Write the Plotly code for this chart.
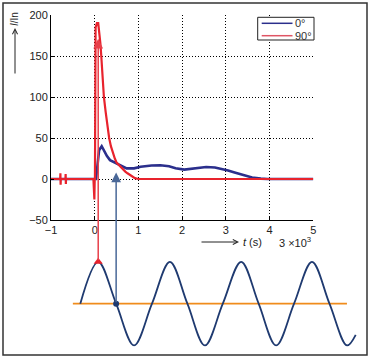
import plotly.graph_objects as go

# ---------------- data ----------------
series_names = ["0°", "90°"]

t_0 = [-1.0, 0.03, 0.06, 0.1, 0.16, 0.22, 0.28, 0.35, 0.42, 0.5, 0.6, 0.73, 0.9, 1.05,
       1.3, 1.5, 1.7, 1.85, 2.05, 2.3, 2.55, 2.75, 2.9, 3.05, 3.2, 3.4, 3.6, 3.8, 3.95, 5.0]
i_0 = [0, 0, 15, 35, 40, 34, 28, 23, 21, 19, 16, 13, 13, 15,
       16.5, 16.7, 15.5, 13, 11.5, 13, 14.6, 14, 12.5, 10.5, 8, 4.5, 1.8, 0.5, 0, 0]

t_90 = [-1.0, -0.79, -0.785, -0.78, -0.775, -0.67, -0.665, -0.66, -0.655, -0.03, -0.012, -0.008,
        0.0, 0.005, 0.02, 0.05, 0.08, 0.1, 0.13, 0.15, 0.18, 0.21, 0.25, 0.29, 0.33, 0.37,
        0.42, 0.46, 0.5, 0.55, 0.6, 0.65, 0.7, 0.75, 0.8, 0.86, 0.92, 1.0, 5.0]
i_90 = [0, 0, 7, -7, 0, 0, 6, -6, 0, 0, -25, -25,
        0, 0, 185, 190, 190, 182, 165, 150, 125, 100, 82, 64, 50, 40,
        31, 25, 20, 17, 14, 12, 9, 7, 5, 3, 1, 0, 0]

x_ticks = [-1, 0, 1, 2, 3, 4, 5]
y_ticks = [-50, 0, 50, 100, 150, 200]

# schematic voltage wave below the plot (peaks / crossings / troughs)
wave_t = [-0.33, 0.08, 0.49, 0.9, 1.31, 1.72, 2.12, 2.52, 2.93, 3.35, 3.75, 4.15, 4.56, 4.97, 5.37, 5.77, 5.97]
wave_v = [-152, -101, -152, -203, -152, -101, -152, -203, -152, -101, -152, -203, -152, -101, -152, -203, -190]
ref_t = [-0.5, 5.77]
ref_v = [-152, -152]

red_arrow_t = 0.08
red_arrow_from = -101
red_arrow_to = 171
blue_arrow_t = 0.49
blue_arrow_from = -152
blue_arrow_to = 8

# ---------------- layout geometry ----------------
W, H = 370, 359
ML, MR, MT, MB = 51, 9, 15, 4
PW, PH = W - ML - MR, H - MT - MB
x_dom = [0, (313.3 - ML) / PW]
y_dom = [(H - MB - 220) / PH, 1]
x_range = [-1, 5]
y_range = [-50, 200]
x2_range = [x_range[0], x_range[0] + (x_range[1] - x_range[0]) / (x_dom[1] - x_dom[0])]
y2_range = [y_range[1] - (y_range[1] - y_range[0]) / (y_dom[1] - y_dom[0]), y_range[1]]

def px_x(p):
    return (p - ML) / PW

def px_y(p):
    return (H - MB - p) / PH

BLUE = "#2b2f8c"
RED = "#e8232d"
WAVE = "#1f3a70"
ORANGE = "#f08c1c"
ARROW_BLUE = "#4a6898"
FONT = "Liberation Sans, Arial, sans-serif"

fig = go.Figure()

fig.add_trace(go.Scatter(x=t_0, y=i_0, mode="lines", name=series_names[0],
                         line=dict(color=BLUE, width=2.6), xaxis="x", yaxis="y"))
fig.add_trace(go.Scatter(x=t_90, y=i_90, mode="lines", name=series_names[1],
                         line=dict(color=RED, width=2.2), xaxis="x", yaxis="y"))

fig.add_trace(go.Scatter(x=ref_t, y=ref_v, mode="lines", line=dict(color=ORANGE, width=1.8),
                         xaxis="x2", yaxis="y2"))
fig.add_trace(go.Scatter(x=wave_t, y=wave_v, mode="lines",
                         line=dict(color=WAVE, width=1.8, shape="spline", smoothing=1.0),
                         xaxis="x2", yaxis="y2"))
fig.add_trace(go.Scatter(x=[red_arrow_t], y=[red_arrow_from], mode="markers",
                         marker=dict(symbol="triangle-up", size=8, color=RED),
                         xaxis="x2", yaxis="y2"))
fig.add_trace(go.Scatter(x=[blue_arrow_t], y=[blue_arrow_from], mode="markers",
                         marker=dict(symbol="circle", size=6, color=WAVE),
                         xaxis="x2", yaxis="y2"))

annotations = [
    dict(x=red_arrow_t, y=red_arrow_to, ax=red_arrow_t, ay=red_arrow_from,
         xref="x2", yref="y2", axref="x2", ayref="y2", text="", showarrow=True,
         arrowhead=2, arrowsize=1.3, arrowwidth=1.5, arrowcolor="#e8404a"),
    dict(x=blue_arrow_t, y=blue_arrow_to, ax=blue_arrow_t, ay=blue_arrow_from,
         xref="x2", yref="y2", axref="x2", ayref="y2", text="", showarrow=True,
         arrowhead=2, arrowsize=1.3, arrowwidth=1.5, arrowcolor=ARROW_BLUE),
    # y-axis label and arrow
    dict(x=px_x(15), y=px_y(19), xref="paper", yref="paper", text="<i>I</i>/In",
         textangle=-90, showarrow=False, font=dict(family=FONT, size=10, color="#222"),
         xanchor="center", yanchor="middle"),
    dict(x=px_x(15), y=px_y(28), xref="paper", yref="paper", text="", showarrow=True,
         ax=0, ay=47, arrowhead=5, arrowsize=1, arrowwidth=1, arrowcolor="#222"),
    # x-axis label and arrow
    dict(x=px_x(239), y=px_y(242), xref="paper", yref="paper", text="", showarrow=True,
         ax=-39, ay=0, arrowhead=5, arrowsize=1, arrowwidth=1, arrowcolor="#222"),
    dict(x=px_x(241), y=px_y(242), xref="paper", yref="paper", text="<i>t</i> (s)",
         showarrow=False, xanchor="left", yanchor="middle",
         font=dict(family=FONT, size=11, color="#222")),
    dict(x=px_x(277), y=px_y(242), xref="paper", yref="paper", text="3 ×10<sup>3</sup>",
         showarrow=False, xanchor="left", yanchor="middle",
         font=dict(family=FONT, size=11, color="#222")),
    # legend texts
    dict(x=px_x(292.5), y=px_y(23.3), xref="paper", yref="paper", text=series_names[0],
         showarrow=False, xanchor="left", yanchor="middle",
         font=dict(family=FONT, size=11, color="#333")),
    dict(x=px_x(292.5), y=px_y(35.7), xref="paper", yref="paper", text=series_names[1],
         showarrow=False, xanchor="left", yanchor="middle",
         font=dict(family=FONT, size=11, color="#333")),
]

shapes = [
    # outer frame
    dict(type="rect", xref="paper", yref="paper", x0=px_x(3), x1=px_x(367), y0=px_y(355), y1=px_y(3),
         line=dict(color="#333", width=1.5), fillcolor="rgba(0,0,0,0)", layer="below"),
    # legend box and samples
    dict(type="rect", xref="paper", yref="paper", x0=px_x(257.7), x1=px_x(314), y0=px_y(40), y1=px_y(17.3),
         line=dict(color="#222", width=1), fillcolor="white", layer="above"),
    dict(type="line", xref="paper", yref="paper", x0=px_x(261.7), x1=px_x(292.5), y0=px_y(23.3), y1=px_y(23.3),
         line=dict(color=BLUE, width=1.5), layer="above"),
    dict(type="line", xref="paper", yref="paper", x0=px_x(261.7), x1=px_x(292.5), y0=px_y(35.7), y1=px_y(35.7),
         line=dict(color="#e05565", width=1.5), layer="above"),
]

axis_common = dict(showgrid=True, gridcolor="black", gridwidth=1, griddash="1px,2px",
                   zeroline=False, showline=True, linecolor="black", linewidth=1,
                   ticks="inside", ticklen=3, tickcolor="black", tickwidth=1,
                   automargin=False,
                   tickfont=dict(family=FONT, size=11, color="#222"))

fig.update_layout(
    width=W, height=H, autosize=False,
    margin=dict(l=ML, r=MR, t=MT, b=MB, pad=0, autoexpand=False),
    paper_bgcolor="white", plot_bgcolor="rgba(0,0,0,0)",
    showlegend=False,
    xaxis=dict(domain=x_dom, range=x_range, tickvals=x_ticks, anchor="y", **axis_common),
    yaxis=dict(domain=y_dom, range=y_range, tickvals=y_ticks, anchor="x", **axis_common),
    xaxis2=dict(domain=[0, 1], range=x2_range, visible=False, anchor="y2"),
    yaxis2=dict(domain=[0, 1], range=y2_range, visible=False, anchor="x2"),
    annotations=annotations,
    shapes=shapes,
)

fig.write_html("out.html", config={"displayModeBar": False, "responsive": False},
               post_script="document.body.style.margin='0';")
